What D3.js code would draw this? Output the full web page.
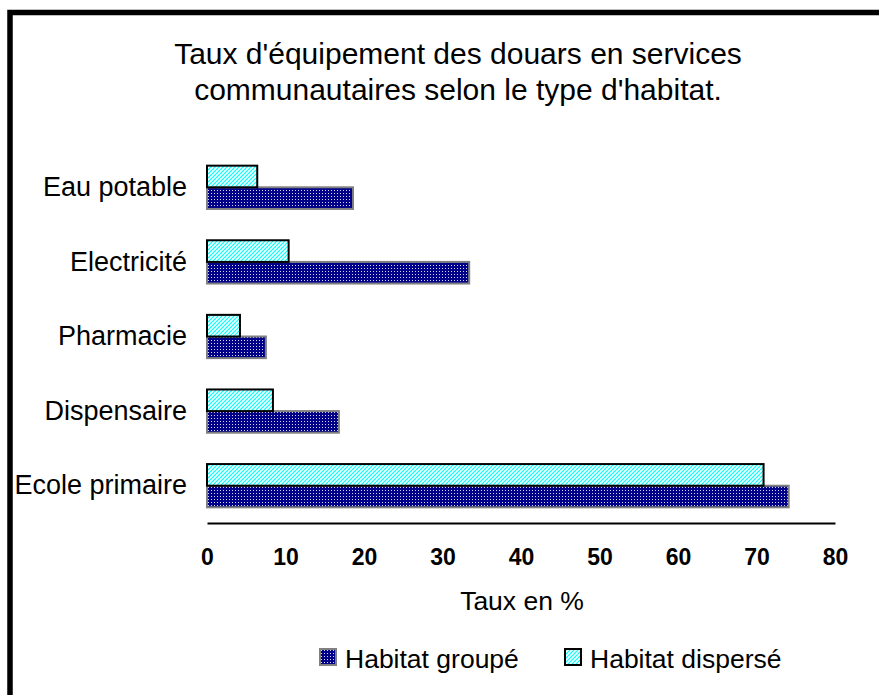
<!DOCTYPE html>
<html>
<head>
<meta charset="utf-8">
<script src="https://cdn.jsdelivr.net/npm/d3@7"></script>
<style>
  html, body { margin: 0; padding: 0; background: #fff; }
  svg { display: block; font-family: "Liberation Sans", Arial, sans-serif; }
</style>
</head>
<body>
<svg id="chart" width="879" height="695"></svg>
<script>
'use strict';

var categories = ["Eau potable", "Electricité", "Pharmacie", "Dispensaire", "Ecole primaire"];
var groupe = [18.6, 33.4, 7.5, 16.8, 74.1];
var disperse = [6.4, 10.4, 4.2, 8.4, 70.9];
var seriesNames = ["Habitat groupé", "Habitat dispersé"];
var xTicks = [0, 10, 20, 30, 40, 50, 60, 70, 80];

var svg = d3.select("#chart");
var defs = svg.append("defs");

// dotted navy fill
var pDots = defs.append("pattern")
  .attr("id", "dots")
  .attr("patternUnits", "userSpaceOnUse")
  .attr("width", 3).attr("height", 3);
pDots.append("rect").attr("width", 3).attr("height", 3).attr("fill", "#000088");
pDots.append("rect").attr("x", 1).attr("y", 1).attr("width", 1).attr("height", 1).attr("fill", "#d8d8ff");

// cyan upward hatch
var pHatch = defs.append("pattern")
  .attr("id", "hatch")
  .attr("patternUnits", "userSpaceOnUse")
  .attr("width", 4).attr("height", 4);
pHatch.append("rect").attr("width", 4).attr("height", 4).attr("fill", "#00ffff");
pHatch.append("path")
  .attr("d", "M0,4 L4,0 M-1,1 L1,-1 M3,5 L5,3")
  .attr("stroke", "#ffffff")
  .attr("stroke-width", 1.6);

// outer frame
svg.append("rect")
  .attr("x", 10).attr("y", 12.5)
  .attr("width", 900).attr("height", 720)
  .attr("fill", "none")
  .attr("stroke", "#000")
  .attr("stroke-width", 5.5);

// title
var title = svg.append("text")
  .attr("text-anchor", "middle")
  .attr("font-size", "30px")
  .attr("fill", "#000");
title.append("tspan").attr("x", 458).attr("y", 64).text("Taux d'équipement des douars en services");
title.append("tspan").attr("x", 458).attr("y", 100).text("communautaires selon le type d'habitat.");

var x = d3.scaleLinear().domain([0, 80]).range([207, 835]);
var y = d3.scaleBand().domain(categories).range([150, 523]).paddingInner(0.42).paddingOuter(0.21);
var half = y.bandwidth() / 2;

// x axis
var xAxis = svg.append("g")
  .attr("transform", "translate(0,523)")
  .call(d3.axisBottom(x).tickValues(xTicks).tickSize(0).tickSizeOuter(0).tickPadding(26));
xAxis.select(".domain").attr("stroke", "#000").attr("stroke-width", 2);
xAxis.selectAll("text")
  .attr("font-size", "23px")
  .attr("font-weight", "bold")
  .attr("font-family", "\"Liberation Sans\", Arial, sans-serif")
  .attr("fill", "#000");

// y axis labels
var yAxis = svg.append("g")
  .attr("transform", "translate(207,0)")
  .call(d3.axisLeft(y).tickSize(0).tickPadding(20));
yAxis.select(".domain").remove();
yAxis.selectAll("text")
  .attr("font-size", "27px")
  .attr("font-family", "\"Liberation Sans\", Arial, sans-serif")
  .attr("fill", "#000");

// bars
var rows = categories.map(function(c, i) { return {cat: c, g: groupe[i], d: disperse[i]}; });

svg.append("g").selectAll("rect")
  .data(rows)
  .enter()
  .append("rect")
  .attr("x", x(0))
  .attr("y", function(d) { return y(d.cat) + half; })
  .attr("width", function(d) { return x(d.g) - x(0); })
  .attr("height", half)
  .attr("fill", "url(#dots)")
  .attr("stroke", "#808080")
  .attr("stroke-width", 2);

svg.append("g").selectAll("rect")
  .data(rows)
  .enter()
  .append("rect")
  .attr("x", x(0))
  .attr("y", function(d) { return y(d.cat); })
  .attr("width", function(d) { return x(d.d) - x(0); })
  .attr("height", half)
  .attr("fill", "url(#hatch)")
  .attr("stroke", "#000")
  .attr("stroke-width", 2);

// axis title
svg.append("text")
  .attr("x", 522).attr("y", 610)
  .attr("text-anchor", "middle")
  .attr("font-size", "26.5px")
  .text("Taux en %");

// legend
var legendX = [320, 565];
var legendFill = ["url(#dots)", "url(#hatch)"];
var legendStroke = ["#808080", "#000"];
var lg = svg.append("g").selectAll("g")
  .data(seriesNames)
  .enter()
  .append("g")
  .attr("transform", function(d, i) { return "translate(" + legendX[i] + ",649)"; });
lg.append("rect")
  .attr("width", 16).attr("height", 16)
  .attr("fill", function(d, i) { return legendFill[i]; })
  .attr("stroke", function(d, i) { return legendStroke[i]; })
  .attr("stroke-width", 2);
lg.append("text")
  .attr("x", 25).attr("y", 19)
  .attr("font-size", "26.5px")
  .text(function(d) { return d; });
</script>
</body>
</html>
